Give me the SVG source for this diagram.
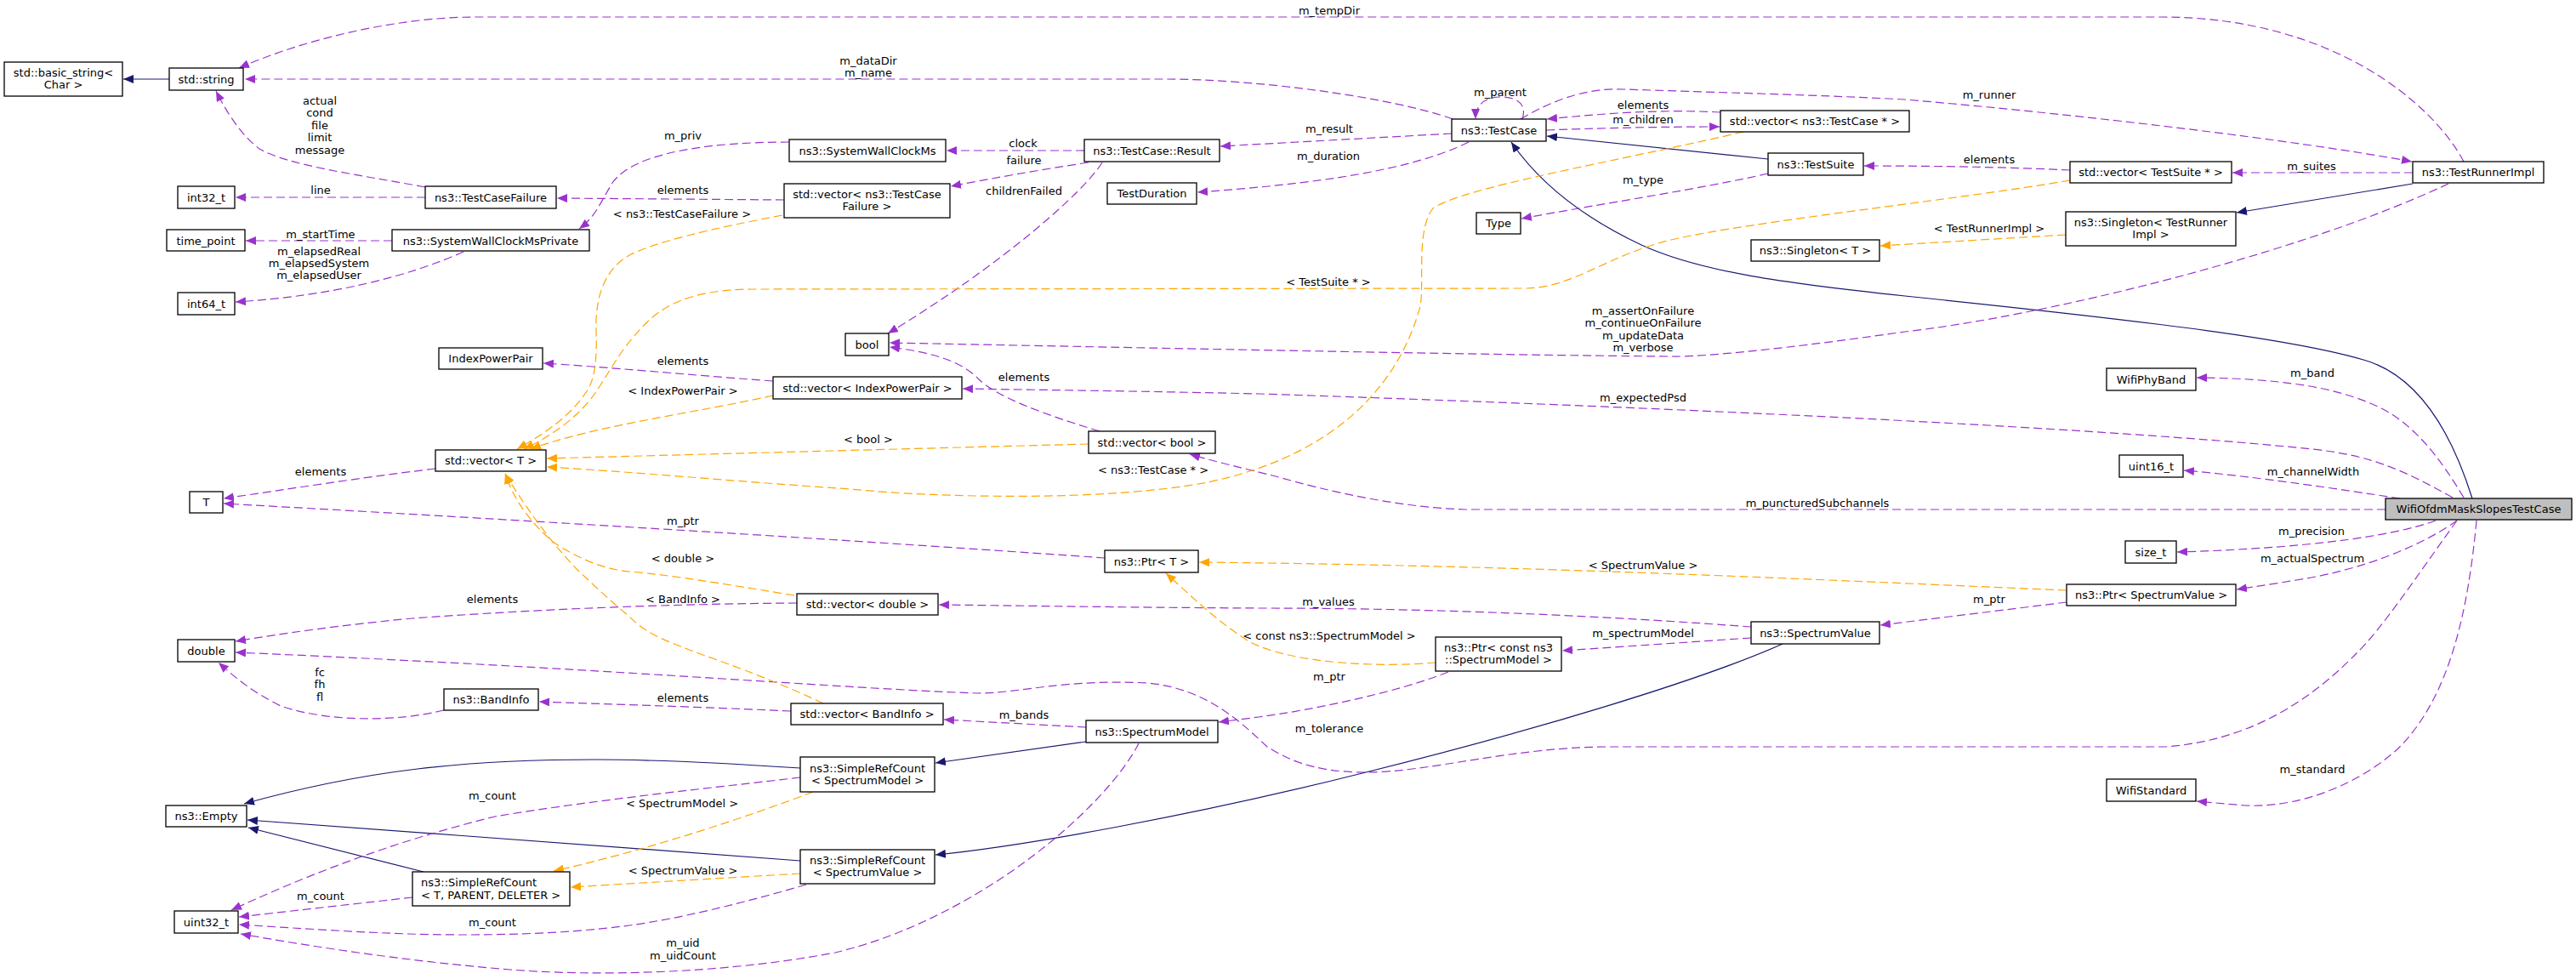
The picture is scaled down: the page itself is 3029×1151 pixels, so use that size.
<svg xmlns="http://www.w3.org/2000/svg" width="3029" height="1151" viewBox="0 0 3029 1151">
<style>
text{font-family:"DejaVu Sans","Liberation Sans",sans-serif;font-size:13px;fill:#000;text-anchor:middle}
.n rect{fill:#fff;stroke:#000;stroke-width:1.3}
.n.sel rect{fill:#bfbfbf}
.n text.l{text-anchor:start}
#edges path{fill:none;stroke-width:1.2}
.u{stroke:#9a32cd;stroke-dasharray:10,5;marker-end:url(#ap)}
.t{stroke:#ffa500;stroke-dasharray:10,5;marker-end:url(#ao)}
.i{stroke:#191970;marker-end:url(#an)}
</style>
<defs>
<marker id="ap" markerUnits="userSpaceOnUse" markerWidth="13" markerHeight="10" refX="12" refY="5" orient="auto"><path d="M0,0L12,5L0,10z" fill="#9a32cd"/></marker>
<marker id="ao" markerUnits="userSpaceOnUse" markerWidth="13" markerHeight="10" refX="12" refY="5" orient="auto"><path d="M0,0L12,5L0,10z" fill="#ffa500"/></marker>
<marker id="an" markerUnits="userSpaceOnUse" markerWidth="13" markerHeight="10" refX="12" refY="5" orient="auto"><path d="M0,0L12,5L0,10z" fill="#191970"/></marker>
</defs>
<rect width="3029" height="1151" fill="#fff"/>
<g id="edges">
<path class="i" d="M199,93 L145,93"/>
<path class="u" d="M2897,190 C2860,120 2740,20 2542,20 L560,20 C470,20 360,45 281,80"/>
<path class="u" d="M1708,140 C1640,115 1480,93 1370,93 L288,93"/>
<path class="u" d="M500,220 C420,205 340,195 305,175 C285,160 268,135 254,107"/>
<path class="u" d="M500,232 L277,232"/>
<path class="u" d="M461,283 L289,283"/>
<path class="u" d="M545,296 C480,325 390,348 277,355"/>
<path class="u" d="M928,167 C830,167 745,180 720,215 C705,240 700,255 681,269"/>
<path class="u" d="M1275,177 L1113,177"/>
<path class="u" d="M1280,191 C1220,200 1165,210 1118,219"/>
<path class="u" d="M1296,191 C1275,225 1180,310 1044,392"/>
<path class="u" d="M922,235 L655,233"/>
<path class="t" d="M920,253 C830,270 770,285 740,300 C705,320 700,360 701,390 C702,420 700,445 690,460 C670,490 640,510 608,528"/>
<path class="u" d="M1707,157 L1435,172"/>
<path class="u" d="M1727,167 C1660,200 1550,216 1408,226"/>
<path class="u" d="M1790,140 C1796,122 1783,114 1765,114 C1745,114 1735,124 1735,140"/>
<path class="u" d="M1818,153 C1900,150 1960,149 2022,149"/>
<path class="u" d="M2023,132 C1950,128 1880,134 1819,140"/>
<path class="i" d="M2079,187 L1819,160"/>
<path class="i" d="M2907,586 C2880,500 2840,440 2779,423 C2700,400 2550,380 2240,348 C2100,333 2000,320 1930,288 C1860,255 1810,215 1777,167"/>
<path class="u" d="M2434,200 C2350,196 2260,195 2192,195"/>
<path class="u" d="M2837,203 L2625,203"/>
<path class="u" d="M1788,140 C1830,115 1870,103 1910,105 C2000,108 2150,112 2240,117 C2450,135 2700,165 2836,190"/>
<path class="u" d="M2879,216 C2700,300 2400,372 2240,390 C2100,410 2000,420 1965,419 C1800,418 1500,412 1046,403"/>
<path class="i" d="M2837,216 L2630,250"/>
<path class="t" d="M2429,276 L2211,289"/>
<path class="t" d="M2434,212 C2300,235 2060,260 1965,282 C1890,300 1850,338 1795,339 L885,340 C810,340 775,362 755,385 C730,410 715,440 700,462 C680,490 650,512 616,528"/>
<path class="u" d="M909,448 C800,440 720,432 639,427"/>
<path class="u" d="M2884,585 C2830,555 2790,535 2718,528 C2500,505 2000,480 1480,463 C1350,460 1200,458 1132,457"/>
<path class="u" d="M1293,507 C1220,485 1170,465 1150,445 C1130,425 1100,415 1046,408"/>
<path class="u" d="M2805,599 L1722,599 C1640,596 1560,577 1500,560 C1460,550 1430,543 1399,534"/>
<path class="u" d="M2897,585 C2870,540 2840,500 2800,480 C2760,460 2700,445 2583,444"/>
<path class="u" d="M2822,586 C2750,575 2650,560 2568,553"/>
<path class="u" d="M2864,612 C2810,632 2700,645 2560,649"/>
<path class="u" d="M2889,612 C2850,640 2780,670 2700,682 C2670,687 2650,690 2630,693"/>
<path class="u" d="M2912,612 C2902,720 2880,820 2820,880 C2770,925 2700,950 2640,947 L2583,942"/>
<path class="u" d="M2889,612 C2840,680 2800,740 2771,768 C2720,820 2650,870 2547,878 L1892,878 C1780,878 1680,908 1606,908 C1540,908 1510,890 1490,878 C1460,850 1420,810 1350,803 C1250,798 1200,815 1150,815 C1000,810 700,785 277,767"/>
<path class="u" d="M1299,656 C1100,642 800,622 263,592"/>
<path class="u" d="M512,551 C420,562 340,575 263,586"/>
<path class="t" d="M2430,694 C2100,680 1800,665 1410,661"/>
<path class="u" d="M2430,708 L2211,735"/>
<path class="u" d="M2059,737 C1900,725 1700,715 1480,715 C1300,714 1200,712 1104,711"/>
<path class="u" d="M2059,750 L1837,765"/>
<path class="i" d="M2096,757 C2000,800 1800,860 1606,908 C1400,960 1200,995 1100,1005"/>
<path class="i" d="M1277,872 L1100,897"/>
<path class="u" d="M1277,855 L1110,846"/>
<path class="u" d="M1703,790 C1640,815 1540,835 1480,843 L1433,849"/>
<path class="t" d="M1688,779 C1620,785 1520,780 1470,755 C1430,730 1400,700 1371,674"/>
<path class="u" d="M937,709 C800,710 650,715 485,727 C400,735 330,745 277,754"/>
<path class="t" d="M934,700 C860,688 790,676 740,672 C700,668 670,650 650,637 C625,615 605,590 594,557"/>
<path class="t" d="M968,827 C900,795 840,775 813,765 C780,752 760,745 740,725 C710,700 690,680 679,670 C650,640 620,600 594,557"/>
<path class="u" d="M522,835 C470,848 390,850 330,830 C300,815 280,800 257,779"/>
<path class="u" d="M930,836 C820,831 720,828 634,825"/>
<path class="i" d="M941,903 C850,897 760,893 700,893 C550,893 430,905 287,945"/>
<path class="i" d="M941,1012 C800,1000 500,980 291,964"/>
<path class="i" d="M498,1025 L292,973"/>
<path class="t" d="M956,931 C880,960 760,1000 651,1024"/>
<path class="t" d="M941,1027 L671,1043"/>
<path class="u" d="M941,914 C850,925 700,940 582,960 C480,985 380,1020 272,1070"/>
<path class="u" d="M485,1055 L281,1078"/>
<path class="u" d="M948,1040 C880,1060 800,1080 740,1088 C650,1100 550,1100 480,1098 C400,1095 330,1090 281,1087"/>
<path class="u" d="M1339,874 C1300,950 1150,1080 982,1120 C850,1145 700,1148 600,1140 C480,1130 380,1115 283,1098"/>
<path class="u" d="M2079,204 C2000,222 1880,240 1789,257"/>
<path class="t" d="M909,465 C820,485 700,500 624,528"/>
<path class="t" d="M1280,522 L643,539"/>
<path class="t" d="M2050,155 C1900,190 1720,220 1685,245 C1665,270 1675,330 1670,360 C1640,470 1550,540 1420,567 C1300,590 1100,585 1000,575 C850,565 750,555 643,549"/>
<g id="labels">
<text x="1563" y="16.5">m_tempDir</text>
<text x="1021" y="75.5">m_dataDir</text><text x="1021" y="89.5">m_name</text>
<text x="376" y="122.5">actual</text><text x="376" y="137">cond</text><text x="376" y="151.5">file</text><text x="376" y="166">limit</text><text x="376" y="181">message</text>
<text x="377" y="227.5">line</text>
<text x="377" y="279.5">m_startTime</text>
<text x="375" y="299.5">m_elapsedReal</text><text x="375" y="313.5">m_elapsedSystem</text><text x="375" y="327.5">m_elapsedUser</text>
<text x="803" y="163.5">m_priv</text>
<text x="1203" y="172.5">clock</text>
<text x="1204" y="192.5">failure</text>
<text x="803" y="227.5">elements</text>
<text x="802" y="255.5">&lt; ns3::TestCaseFailure &gt;</text>
<text x="1204" y="228.5">childrenFailed</text>
<text x="1764" y="112.5">m_parent</text>
<text x="1932" y="127.5">elements</text>
<text x="1932" y="144.5">m_children</text>
<text x="1563" y="155.5">m_result</text>
<text x="1562" y="187.5">m_duration</text>
<text x="1932" y="215.5">m_type</text>
<text x="1562" y="335.5">&lt; TestSuite * &gt;</text>
<text x="1932" y="369.5">m_assertOnFailure</text><text x="1932" y="384">m_continueOnFailure</text><text x="1932" y="398.5">m_updateData</text><text x="1932" y="413">m_verbose</text>
<text x="2339" y="115.5">m_runner</text>
<text x="2339" y="191.5">elements</text>
<text x="2718" y="199.5">m_suites</text>
<text x="2339" y="272.5">&lt; TestRunnerImpl &gt;</text>
<text x="377" y="558.5">elements</text>
<text x="579" y="708.5">elements</text>
<text x="803" y="463.5">&lt; IndexPowerPair &gt;</text>
<text x="803" y="428.5">elements</text>
<text x="1204" y="447.5">elements</text>
<text x="1021" y="520.5">&lt; bool &gt;</text>
<text x="1356" y="556.5">&lt; ns3::TestCase * &gt;</text>
<text x="803" y="616.5">m_ptr</text>
<text x="803" y="660.5">&lt; double &gt;</text>
<text x="803" y="708.5">&lt; BandInfo &gt;</text>
<text x="1932" y="471.5">m_expectedPsd</text>
<text x="2137" y="595.5">m_puncturedSubchannels</text>
<text x="1932" y="668.5">&lt; SpectrumValue &gt;</text>
<text x="1562" y="711.5">m_values</text>
<text x="1563" y="751.5">&lt; const ns3::SpectrumModel &gt;</text>
<text x="1932" y="748.5">m_spectrumModel</text>
<text x="2719" y="442.5">m_band</text>
<text x="2720" y="558.5">m_channelWidth</text>
<text x="2718" y="628.5">m_precision</text>
<text x="2719" y="660.5">m_actualSpectrum</text>
<text x="2339" y="708.5">m_ptr</text>
<text x="376" y="794.5">fc</text><text x="376" y="808.5">fh</text><text x="376" y="823.5">fl</text>
<text x="579" y="939.5">m_count</text>
<text x="802" y="948.5">&lt; SpectrumModel &gt;</text>
<text x="377" y="1057.5">m_count</text>
<text x="579" y="1088.5">m_count</text>
<text x="803" y="1112.5">m_uid</text><text x="803" y="1127.5">m_uidCount</text>
<text x="803" y="824.5">elements</text>
<text x="1204" y="844.5">m_bands</text>
<text x="803" y="1027.5">&lt; SpectrumValue &gt;</text>
<text x="1563" y="799.5">m_ptr</text>
<text x="1563" y="860.5">m_tolerance</text>
<text x="2719" y="908.5">m_standard</text>
</g>
</g>
<g id="n_basic_string" class="n"><rect x="5" y="73" width="139" height="40"/><text x="74.5" y="89.5">std::basic_string&lt;</text><text x="74.5" y="103.5">Char &gt;</text></g>
<g id="n_string" class="n"><rect x="199" y="80" width="87" height="26"/><text x="242.5" y="97.5">std::string</text></g>
<g id="n_int32" class="n"><rect x="209" y="219" width="67" height="26"/><text x="242.5" y="236.5">int32_t</text></g>
<g id="n_testcasefailure" class="n"><rect x="500" y="219" width="154" height="26"/><text x="577" y="236.5">ns3::TestCaseFailure</text></g>
<g id="n_time_point" class="n"><rect x="196" y="270" width="92" height="25"/><text x="242" y="287.5">time_point</text></g>
<g id="n_swcmprivate" class="n"><rect x="461" y="270" width="232" height="25"/><text x="577" y="287.5">ns3::SystemWallClockMsPrivate</text></g>
<g id="n_int64" class="n"><rect x="209" y="344" width="67" height="26"/><text x="242.5" y="361.5">int64_t</text></g>
<g id="n_swcm" class="n"><rect x="928" y="164" width="184" height="26"/><text x="1020" y="181.5">ns3::SystemWallClockMs</text></g>
<g id="n_result" class="n"><rect x="1275" y="164" width="159" height="26"/><text x="1354.5" y="181.5">ns3::TestCase::Result</text></g>
<g id="n_vec_tcf" class="n"><rect x="922" y="216" width="195" height="40"/><text x="1019.5" y="232.5">std::vector&lt; ns3::TestCase</text><text x="1019.5" y="246.5">Failure &gt;</text></g>
<g id="n_testduration" class="n"><rect x="1302" y="215" width="105" height="25"/><text x="1354.5" y="232">TestDuration</text></g>
<g id="n_testcase" class="n"><rect x="1707" y="140" width="111" height="26"/><text x="1762.5" y="157.5">ns3::TestCase</text></g>
<g id="n_vec_testcase" class="n"><rect x="2023" y="130" width="222" height="25"/><text x="2134" y="147">std::vector&lt; ns3::TestCase * &gt;</text></g>
<g id="n_testsuite" class="n"><rect x="2079" y="180" width="112" height="26"/><text x="2135" y="197.5">ns3::TestSuite</text></g>
<g id="n_type" class="n"><rect x="1736" y="250" width="52" height="25"/><text x="1762" y="267">Type</text></g>
<g id="n_singleton_t" class="n"><rect x="2059" y="282" width="151" height="25"/><text x="2134.5" y="299">ns3::Singleton&lt; T &gt;</text></g>
<g id="n_vec_testsuite" class="n"><rect x="2434" y="190" width="190" height="25"/><text x="2529" y="207">std::vector&lt; TestSuite * &gt;</text></g>
<g id="n_testrunnerimpl" class="n"><rect x="2837" y="190" width="154" height="25"/><text x="2914" y="207">ns3::TestRunnerImpl</text></g>
<g id="n_singleton_tri" class="n"><rect x="2429" y="249" width="200" height="40"/><text x="2529" y="265.5">ns3::Singleton&lt; TestRunner</text><text x="2529" y="279.5">Impl &gt;</text></g>
<g id="n_indexpowerpair" class="n"><rect x="516" y="409" width="122" height="25"/><text x="577" y="426">IndexPowerPair</text></g>
<g id="n_vec_t" class="n"><rect x="512" y="529" width="130" height="25"/><text x="577" y="546">std::vector&lt; T &gt;</text></g>
<g id="n_t" class="n"><rect x="223" y="578" width="39" height="25"/><text x="242.5" y="595">T</text></g>
<g id="n_double" class="n"><rect x="209" y="752" width="67" height="26"/><text x="242.5" y="769.5">double</text></g>
<g id="n_bool" class="n"><rect x="994" y="392" width="51" height="26"/><text x="1019.5" y="409.5">bool</text></g>
<g id="n_vec_ipp" class="n"><rect x="909" y="443" width="222" height="26"/><text x="1020" y="460.5">std::vector&lt; IndexPowerPair &gt;</text></g>
<g id="n_vec_bool" class="n"><rect x="1280" y="507" width="149" height="26"/><text x="1354.5" y="524.5">std::vector&lt; bool &gt;</text></g>
<g id="n_ptr_t" class="n"><rect x="1299" y="647" width="110" height="26"/><text x="1354" y="664.5">ns3::Ptr&lt; T &gt;</text></g>
<g id="n_vec_double" class="n"><rect x="937" y="698" width="166" height="25"/><text x="1020" y="715">std::vector&lt; double &gt;</text></g>
<g id="n_spectrumvalue" class="n"><rect x="2059" y="731" width="151" height="26"/><text x="2134.5" y="748.5">ns3::SpectrumValue</text></g>
<g id="n_ptr_csm" class="n"><rect x="1688" y="749" width="148" height="40"/><text x="1762" y="765.5">ns3::Ptr&lt; const ns3</text><text x="1762" y="779.5">::SpectrumModel &gt;</text></g>
<g id="n_wifiphyband" class="n"><rect x="2477" y="433" width="105" height="26"/><text x="2529.5" y="450.5">WifiPhyBand</text></g>
<g id="n_uint16" class="n"><rect x="2492" y="535" width="75" height="26"/><text x="2529.5" y="552.5">uint16_t</text></g>
<g id="n_wifiofdm" class="n sel"><rect x="2805" y="586" width="219" height="25"/><text x="2914.5" y="603">WifiOfdmMaskSlopesTestCase</text></g>
<g id="n_size_t" class="n"><rect x="2499" y="636" width="60" height="26"/><text x="2529" y="653.5">size_t</text></g>
<g id="n_ptr_sv" class="n"><rect x="2430" y="687" width="199" height="25"/><text x="2529.5" y="704">ns3::Ptr&lt; SpectrumValue &gt;</text></g>
<g id="n_bandinfo" class="n"><rect x="522" y="810" width="111" height="25"/><text x="577.5" y="827">ns3::BandInfo</text></g>
<g id="n_empty" class="n"><rect x="195" y="947" width="95" height="25"/><text x="242.5" y="964">ns3::Empty</text></g>
<g id="n_src_tpd" class="n"><rect x="485" y="1025" width="185" height="40"/><text class="l" x="495" y="1041.5">ns3::SimpleRefCount</text><text class="l" x="495" y="1056.5">&lt; T, PARENT, DELETER &gt;</text></g>
<g id="n_uint32" class="n"><rect x="205" y="1071" width="75" height="26"/><text x="242.5" y="1088.5">uint32_t</text></g>
<g id="n_vec_bandinfo" class="n"><rect x="930" y="827" width="179" height="25"/><text x="1019.5" y="844">std::vector&lt; BandInfo &gt;</text></g>
<g id="n_spectrummodel" class="n"><rect x="1277" y="847" width="155" height="26"/><text x="1354.5" y="864.5">ns3::SpectrumModel</text></g>
<g id="n_src_sm" class="n"><rect x="941" y="890" width="158" height="41"/><text x="1020" y="907.5">ns3::SimpleRefCount</text><text x="1020" y="921.5">&lt; SpectrumModel &gt;</text></g>
<g id="n_src_sv" class="n"><rect x="941" y="999" width="158" height="40"/><text x="1020" y="1015.5">ns3::SimpleRefCount</text><text x="1020" y="1029.5">&lt; SpectrumValue &gt;</text></g>
<g id="n_wifistandard" class="n"><rect x="2477" y="916" width="105" height="26"/><text x="2529.5" y="933.5">WifiStandard</text></g>
</svg>
